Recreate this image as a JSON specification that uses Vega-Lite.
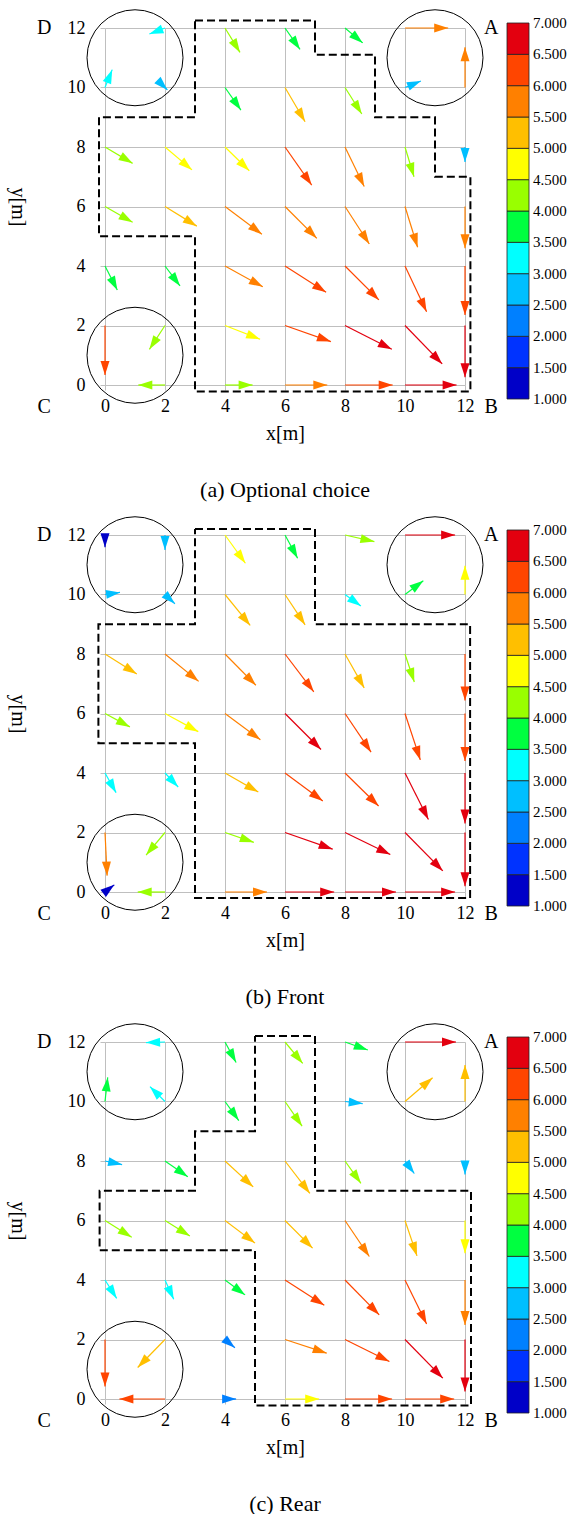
{
  "$schema": "https://vega.github.io/schema/vega-lite/v6.json",
  "background": "white",
  "padding": {"left": 7, "top": 7, "right": 0, "bottom": 0},
  "spacing": 150,
  "bounds": "flush",
  "config": {
    "view": {"stroke": null},
    "axis": {
      "grid": true, "gridColor": "#bfbfbf", "gridWidth": 1,
      "ticks": true, "tickColor": "#bfbfbf", "tickSize": 5, "tickWidth": 1,
      "domain": false,
      "labelFont": "Liberation Serif", "labelFontSize": 18, "labelColor": "black",
      "labelFlush": false, "labelOverlap": false, "labelBound": false,
      "titleFont": "Liberation Serif", "titleFontSize": 20, "titleFontWeight": "normal", "titleColor": "black"
    },
    "title": {"font": "Liberation Serif", "fontSize": 22, "fontWeight": "normal", "color": "black", "offset": 37},
    "text": {"font": "Liberation Serif"}
  },
  "datasets": {
    "circles": [{"cx": 1, "cy": 11}, {"cx": 11, "cy": 11}, {"cx": 1, "cy": 1}],
    "corners": [{"t": "D", "lx": -2.03, "ly": 12}, {"t": "C", "lx": -2.03, "ly": -0.74}, {"t": "A", "lx": 12.87, "ly": 12}, {"t": "B", "lx": 12.87, "ly": -0.74}],
    "bands": [
      {"lo": 1.0, "hi": 1.5, "v": 1.25}, {"lo": 1.5, "hi": 2.0, "v": 1.75}, {"lo": 2.0, "hi": 2.5, "v": 2.25},
      {"lo": 2.5, "hi": 3.0, "v": 2.75}, {"lo": 3.0, "hi": 3.5, "v": 3.25}, {"lo": 3.5, "hi": 4.0, "v": 3.75},
      {"lo": 4.0, "hi": 4.5, "v": 4.25}, {"lo": 4.5, "hi": 5.0, "v": 4.75}, {"lo": 5.0, "hi": 5.5, "v": 5.25},
      {"lo": 5.5, "hi": 6.0, "v": 5.75}, {"lo": 6.0, "hi": 6.5, "v": 6.25}, {"lo": 6.5, "hi": 7.0, "v": 6.75}
    ],
    "bandTicks": [{"t": 1.0}, {"t": 1.5}, {"t": 2.0}, {"t": 2.5}, {"t": 3.0}, {"t": 3.5}, {"t": 4.0}, {"t": 4.5}, {"t": 5.0}, {"t": 5.5}, {"t": 6.0}, {"t": 6.5}, {"t": 7.0}],
    "polyA": [
      {"i": 0, "px": 3, "py": 12.25}, {"i": 1, "px": 7, "py": 12.25}, {"i": 2, "px": 7, "py": 11.1}, {"i": 3, "px": 9, "py": 11.1},
      {"i": 4, "px": 9, "py": 9}, {"i": 5, "px": 11, "py": 9}, {"i": 6, "px": 11, "py": 7}, {"i": 7, "px": 12.18, "py": 7},
      {"i": 8, "px": 12.18, "py": -0.22}, {"i": 9, "px": 3, "py": -0.22}, {"i": 10, "px": 3, "py": 5}, {"i": 11, "px": -0.2, "py": 5},
      {"i": 12, "px": -0.2, "py": 9}, {"i": 13, "px": 3, "py": 9}, {"i": 14, "px": 3, "py": 12.25}
    ],
    "polyB": [
      {"i": 0, "px": 3, "py": 12.2}, {"i": 1, "px": 7, "py": 12.2}, {"i": 2, "px": 7, "py": 9}, {"i": 3, "px": 12.17, "py": 9},
      {"i": 4, "px": 12.17, "py": -0.2}, {"i": 5, "px": 3, "py": -0.2}, {"i": 6, "px": 3, "py": 5}, {"i": 7, "px": -0.22, "py": 5},
      {"i": 8, "px": -0.22, "py": 9}, {"i": 9, "px": 3, "py": 9}, {"i": 10, "px": 3, "py": 12.2}
    ],
    "polyC": [
      {"i": 0, "px": 5, "py": 12.2}, {"i": 1, "px": 7, "py": 12.2}, {"i": 2, "px": 7, "py": 7}, {"i": 3, "px": 12.2, "py": 7},
      {"i": 4, "px": 12.2, "py": -0.22}, {"i": 5, "px": 5, "py": -0.22}, {"i": 6, "px": 5, "py": 5}, {"i": 7, "px": -0.18, "py": 5},
      {"i": 8, "px": -0.18, "py": 7}, {"i": 9, "px": 3, "py": 7}, {"i": 10, "px": 3, "py": 9}, {"i": 11, "px": 5, "py": 9},
      {"i": 12, "px": 5, "py": 12.2}
    ],
    "arrowsA": [
      {"x": 2, "y": 12, "x2": 1.48, "y2": 11.8, "v": 3.25},
      {"x": 4, "y": 12, "x2": 4.5, "y2": 11.18, "v": 4.25},
      {"x": 6, "y": 12, "x2": 6.5, "y2": 11.28, "v": 3.75},
      {"x": 8, "y": 12, "x2": 8.59, "y2": 11.5, "v": 3.75},
      {"x": 10, "y": 12, "x2": 11.44, "y2": 12, "v": 5.75},
      {"x": 0, "y": 10, "x2": 0.24, "y2": 10.6, "v": 3.25},
      {"x": 2, "y": 10, "x2": 2.08, "y2": 9.92, "v": 2.75},
      {"x": 4, "y": 10, "x2": 4.53, "y2": 9.24, "v": 3.75},
      {"x": 6, "y": 10, "x2": 6.67, "y2": 8.85, "v": 5.25},
      {"x": 8, "y": 10, "x2": 8.56, "y2": 9.11, "v": 4.25},
      {"x": 10, "y": 10, "x2": 10.53, "y2": 10.22, "v": 2.75},
      {"x": 12, "y": 10, "x2": 12, "y2": 11.35, "v": 5.75},
      {"x": 0, "y": 8, "x2": 0.92, "y2": 7.45, "v": 4.25},
      {"x": 2, "y": 8, "x2": 2.9, "y2": 7.23, "v": 4.75},
      {"x": 4, "y": 8, "x2": 4.81, "y2": 7.2, "v": 4.75},
      {"x": 6, "y": 8, "x2": 6.89, "y2": 6.72, "v": 6.25},
      {"x": 8, "y": 8, "x2": 8.64, "y2": 6.67, "v": 5.75},
      {"x": 10, "y": 8, "x2": 10.3, "y2": 7.0, "v": 4.25},
      {"x": 12, "y": 8, "x2": 12, "y2": 7.5, "v": 2.75},
      {"x": 0, "y": 6, "x2": 0.92, "y2": 5.47, "v": 4.25},
      {"x": 2, "y": 6, "x2": 3.06, "y2": 5.34, "v": 5.25},
      {"x": 4, "y": 6, "x2": 5.23, "y2": 5.07, "v": 5.75},
      {"x": 6, "y": 6, "x2": 7.06, "y2": 4.93, "v": 5.75},
      {"x": 8, "y": 6, "x2": 8.81, "y2": 4.74, "v": 5.75},
      {"x": 10, "y": 6, "x2": 10.42, "y2": 4.63, "v": 5.75},
      {"x": 12, "y": 6, "x2": 12, "y2": 4.6, "v": 5.75},
      {"x": 0, "y": 4, "x2": 0.41, "y2": 3.19, "v": 3.75},
      {"x": 2, "y": 4, "x2": 2.5, "y2": 3.33, "v": 3.75},
      {"x": 4, "y": 4, "x2": 5.26, "y2": 3.3, "v": 5.75},
      {"x": 6, "y": 4, "x2": 7.37, "y2": 3.12, "v": 6.25},
      {"x": 8, "y": 4, "x2": 9.13, "y2": 2.86, "v": 6.25},
      {"x": 10, "y": 4, "x2": 10.72, "y2": 2.46, "v": 6.25},
      {"x": 12, "y": 4, "x2": 12, "y2": 2.35, "v": 6.25},
      {"x": 0, "y": 2, "x2": 0, "y2": 0.34, "v": 6.25},
      {"x": 2, "y": 2, "x2": 1.48, "y2": 1.2, "v": 4.25},
      {"x": 4, "y": 2, "x2": 5.17, "y2": 1.54, "v": 4.75},
      {"x": 6, "y": 2, "x2": 7.53, "y2": 1.46, "v": 6.25},
      {"x": 8, "y": 2, "x2": 9.56, "y2": 1.2, "v": 6.75},
      {"x": 10, "y": 2, "x2": 11.24, "y2": 0.71, "v": 6.75},
      {"x": 12, "y": 2, "x2": 12, "y2": 0.26, "v": 6.75},
      {"x": 2, "y": 0, "x2": 1.11, "y2": 0, "v": 4.25},
      {"x": 4, "y": 0, "x2": 4.92, "y2": 0, "v": 4.25},
      {"x": 6, "y": 0, "x2": 7.41, "y2": 0, "v": 5.75},
      {"x": 8, "y": 0, "x2": 9.59, "y2": 0, "v": 6.25},
      {"x": 10, "y": 0, "x2": 11.72, "y2": 0, "v": 6.75}
    ],
    "arrowsB": [
      {"x": 0, "y": 12, "x2": 0, "y2": 11.59, "v": 1.25},
      {"x": 2, "y": 12, "x2": 2, "y2": 11.5, "v": 2.75},
      {"x": 4, "y": 12, "x2": 4.68, "y2": 11.05, "v": 4.75},
      {"x": 6, "y": 12, "x2": 6.42, "y2": 11.22, "v": 3.75},
      {"x": 8, "y": 12, "x2": 8.98, "y2": 11.78, "v": 4.25},
      {"x": 10, "y": 12, "x2": 11.67, "y2": 12, "v": 6.75},
      {"x": 0, "y": 10, "x2": 0.5, "y2": 10.07, "v": 2.75},
      {"x": 2, "y": 10, "x2": 2.33, "y2": 9.69, "v": 2.75},
      {"x": 4, "y": 10, "x2": 4.84, "y2": 8.96, "v": 5.25},
      {"x": 6, "y": 10, "x2": 6.67, "y2": 8.98, "v": 5.25},
      {"x": 8, "y": 10, "x2": 8.53, "y2": 9.61, "v": 3.25},
      {"x": 10, "y": 10, "x2": 10.61, "y2": 10.46, "v": 3.75},
      {"x": 12, "y": 10, "x2": 12, "y2": 10.97, "v": 4.75},
      {"x": 0, "y": 8, "x2": 1.06, "y2": 7.33, "v": 5.25},
      {"x": 2, "y": 8, "x2": 3.12, "y2": 7.08, "v": 5.75},
      {"x": 4, "y": 8, "x2": 5.03, "y2": 6.95, "v": 5.75},
      {"x": 6, "y": 8, "x2": 6.96, "y2": 6.73, "v": 6.25},
      {"x": 8, "y": 8, "x2": 8.64, "y2": 6.86, "v": 5.25},
      {"x": 10, "y": 8, "x2": 10.31, "y2": 7.06, "v": 4.25},
      {"x": 12, "y": 8, "x2": 12, "y2": 6.44, "v": 6.25},
      {"x": 0, "y": 6, "x2": 0.83, "y2": 5.55, "v": 4.25},
      {"x": 2, "y": 6, "x2": 3.11, "y2": 5.39, "v": 4.75},
      {"x": 4, "y": 6, "x2": 5.18, "y2": 5.12, "v": 5.75},
      {"x": 6, "y": 6, "x2": 7.2, "y2": 4.79, "v": 6.75},
      {"x": 8, "y": 6, "x2": 8.87, "y2": 4.7, "v": 6.25},
      {"x": 10, "y": 6, "x2": 10.51, "y2": 4.44, "v": 6.25},
      {"x": 12, "y": 6, "x2": 12, "y2": 4.4, "v": 6.25},
      {"x": 0, "y": 4, "x2": 0.37, "y2": 3.34, "v": 3.25},
      {"x": 2, "y": 4, "x2": 2.44, "y2": 3.53, "v": 3.25},
      {"x": 4, "y": 4, "x2": 5.11, "y2": 3.36, "v": 5.25},
      {"x": 6, "y": 4, "x2": 7.26, "y2": 3.06, "v": 6.25},
      {"x": 8, "y": 4, "x2": 9.12, "y2": 2.89, "v": 6.25},
      {"x": 10, "y": 4, "x2": 10.78, "y2": 2.44, "v": 6.75},
      {"x": 12, "y": 4, "x2": 12, "y2": 2.3, "v": 6.75},
      {"x": 0, "y": 2, "x2": 0.07, "y2": 0.55, "v": 5.75},
      {"x": 2, "y": 2, "x2": 1.37, "y2": 1.24, "v": 4.25},
      {"x": 4, "y": 2, "x2": 4.96, "y2": 1.67, "v": 4.25},
      {"x": 6, "y": 2, "x2": 7.59, "y2": 1.44, "v": 6.75},
      {"x": 8, "y": 2, "x2": 9.51, "y2": 1.26, "v": 6.75},
      {"x": 10, "y": 2, "x2": 11.26, "y2": 0.71, "v": 6.75},
      {"x": 12, "y": 2, "x2": 12, "y2": 0.19, "v": 6.75},
      {"x": 0, "y": 0, "x2": 0.31, "y2": 0.24, "v": 1.25},
      {"x": 2, "y": 0, "x2": 1.09, "y2": 0, "v": 4.25},
      {"x": 4, "y": 0, "x2": 5.4, "y2": 0, "v": 5.75},
      {"x": 6, "y": 0, "x2": 7.64, "y2": 0, "v": 6.75},
      {"x": 8, "y": 0, "x2": 9.7, "y2": 0, "v": 6.75},
      {"x": 10, "y": 0, "x2": 11.67, "y2": 0, "v": 6.75}
    ],
    "arrowsC": [
      {"x": 2, "y": 12, "x2": 1.37, "y2": 11.98, "v": 3.25},
      {"x": 4, "y": 12, "x2": 4.37, "y2": 11.31, "v": 3.75},
      {"x": 6, "y": 12, "x2": 6.59, "y2": 11.28, "v": 4.25},
      {"x": 8, "y": 12, "x2": 8.76, "y2": 11.73, "v": 3.75},
      {"x": 10, "y": 12, "x2": 11.7, "y2": 12, "v": 6.75},
      {"x": 0, "y": 10, "x2": 0.09, "y2": 10.81, "v": 3.75},
      {"x": 2, "y": 10, "x2": 1.5, "y2": 10.5, "v": 3.25},
      {"x": 4, "y": 10, "x2": 4.46, "y2": 9.36, "v": 3.75},
      {"x": 6, "y": 10, "x2": 6.57, "y2": 9.17, "v": 4.25},
      {"x": 8, "y": 10, "x2": 8.59, "y2": 9.93, "v": 2.75},
      {"x": 10, "y": 10, "x2": 10.92, "y2": 10.8, "v": 5.25},
      {"x": 12, "y": 10, "x2": 12, "y2": 11.23, "v": 5.25},
      {"x": 0, "y": 8, "x2": 0.57, "y2": 7.88, "v": 2.75},
      {"x": 2, "y": 8, "x2": 2.76, "y2": 7.47, "v": 3.75},
      {"x": 4, "y": 8, "x2": 4.94, "y2": 7.13, "v": 5.25},
      {"x": 6, "y": 8, "x2": 6.83, "y2": 6.91, "v": 5.25},
      {"x": 8, "y": 8, "x2": 8.53, "y2": 7.25, "v": 4.25},
      {"x": 10, "y": 8, "x2": 10.31, "y2": 7.58, "v": 2.75},
      {"x": 12, "y": 8, "x2": 12, "y2": 7.55, "v": 2.75},
      {"x": 0, "y": 6, "x2": 0.89, "y2": 5.44, "v": 4.25},
      {"x": 2, "y": 6, "x2": 2.83, "y2": 5.48, "v": 4.25},
      {"x": 4, "y": 6, "x2": 5.0, "y2": 5.24, "v": 5.25},
      {"x": 6, "y": 6, "x2": 6.92, "y2": 5.07, "v": 5.25},
      {"x": 8, "y": 6, "x2": 8.81, "y2": 4.79, "v": 5.75},
      {"x": 10, "y": 6, "x2": 10.4, "y2": 4.81, "v": 5.25},
      {"x": 12, "y": 6, "x2": 12, "y2": 4.9, "v": 4.75},
      {"x": 0, "y": 4, "x2": 0.39, "y2": 3.38, "v": 3.25},
      {"x": 2, "y": 4, "x2": 2.29, "y2": 3.35, "v": 3.25},
      {"x": 4, "y": 4, "x2": 4.67, "y2": 3.5, "v": 3.75},
      {"x": 6, "y": 4, "x2": 7.31, "y2": 3.15, "v": 6.25},
      {"x": 8, "y": 4, "x2": 9.14, "y2": 2.83, "v": 6.25},
      {"x": 10, "y": 4, "x2": 10.72, "y2": 2.52, "v": 6.25},
      {"x": 12, "y": 4, "x2": 12, "y2": 2.49, "v": 5.75},
      {"x": 0, "y": 2, "x2": 0, "y2": 0.42, "v": 6.25},
      {"x": 2, "y": 2, "x2": 1.09, "y2": 1.06, "v": 5.25},
      {"x": 4, "y": 2, "x2": 4.33, "y2": 1.72, "v": 2.25},
      {"x": 6, "y": 2, "x2": 7.39, "y2": 1.54, "v": 5.75},
      {"x": 8, "y": 2, "x2": 9.48, "y2": 1.26, "v": 6.25},
      {"x": 10, "y": 2, "x2": 11.26, "y2": 0.7, "v": 6.75},
      {"x": 12, "y": 2, "x2": 12, "y2": 0.25, "v": 6.75},
      {"x": 2, "y": 0, "x2": 0.48, "y2": 0, "v": 6.25},
      {"x": 4, "y": 0, "x2": 4.37, "y2": 0, "v": 2.25},
      {"x": 6, "y": 0, "x2": 7.14, "y2": 0, "v": 4.75},
      {"x": 8, "y": 0, "x2": 9.57, "y2": 0, "v": 6.25},
      {"x": 10, "y": 0, "x2": 11.64, "y2": 0, "v": 6.25}
    ]
  },
  "vconcat": [
    {
      "width": 360, "height": 357,
      "title": {"text": "(a) Optional choice", "orient": "bottom", "anchor": "middle"},
      "resolve": {"scale": {"x": "independent", "y": "independent"}, "axis": {"x": "independent", "y": "independent"}},
      "layer": [
        {
          "layer": [
            {
              "data": {"name": "polyA"},
              "mark": {"type": "line", "stroke": "black", "strokeWidth": 2, "strokeDash": [8, 4]},
              "encoding": {
                "x": {"field": "px", "type": "quantitative", "scale": {"domain": [0, 12], "nice": false, "zero": false},
                      "axis": {"values": [0, 2, 4, 6, 8, 10, 12], "title": "x[m]", "labelPadding": 7, "titlePadding": 8}},
                "y": {"field": "py", "type": "quantitative", "scale": {"domain": [0, 12], "nice": false, "zero": false},
                      "axis": {"values": [0, 2, 4, 6, 8, 10, 12], "title": "y[m]", "labelPadding": 15, "titleAngle": 90, "titlePadding": 60}},
                "order": {"field": "i", "type": "quantitative"}
              }
            },
            {
              "data": {"name": "circles"},
              "mark": {"type": "point", "shape": "circle", "size": 9216, "filled": false, "stroke": "black", "strokeWidth": 1, "opacity": 1},
              "encoding": {"x": {"field": "cx", "type": "quantitative"}, "y": {"field": "cy", "type": "quantitative"}}
            },
            {
              "data": {"name": "arrowsA"},
              "mark": {"type": "rule", "strokeWidth": 1.2},
              "encoding": {
                "x": {"field": "x", "type": "quantitative"}, "y": {"field": "y", "type": "quantitative"},
                "x2": {"field": "x2"}, "y2": {"field": "y2"},
                "color": {"field": "v", "type": "quantitative", "legend": null,
                          "scale": {"type": "quantize", "domain": [1, 7], "range": ["#0000c8", "#0033ff", "#0080ff", "#00bfff", "#00ffff", "#00ff40", "#99ff00", "#ffff00", "#ffbf00", "#ff8000", "#ff4500", "#e3000f"]}}
              }
            },
            {
              "data": {"name": "arrowsA"},
              "transform": [{"calculate": "atan2((datum.x2 - datum.x) * 30, (datum.y2 - datum.y) * 29.75) * 180 / PI", "as": "ang"}],
              "mark": {"type": "point", "shape": "M0,0L0.64,2L-0.64,2Z", "size": 196, "filled": true, "opacity": 1, "strokeWidth": 0},
              "encoding": {
                "x": {"field": "x2", "type": "quantitative"}, "y": {"field": "y2", "type": "quantitative"},
                "angle": {"field": "ang", "type": "quantitative", "scale": null},
                "color": {"field": "v", "type": "quantitative", "legend": null,
                          "scale": {"type": "quantize", "domain": [1, 7], "range": ["#0000c8", "#0033ff", "#0080ff", "#00bfff", "#00ffff", "#00ff40", "#99ff00", "#ffff00", "#ffbf00", "#ff8000", "#ff4500", "#e3000f"]}}
              }
            },
            {
              "data": {"name": "corners"},
              "mark": {"type": "text", "fontSize": 20, "align": "center", "baseline": "middle", "color": "black"},
              "encoding": {"x": {"field": "lx", "type": "quantitative"}, "y": {"field": "ly", "type": "quantitative"}, "text": {"field": "t"}}
            }
          ]
        },
        {
          "layer": [
            {
              "data": {"name": "bands"},
              "mark": {"type": "rect", "stroke": "#222222", "strokeWidth": 0.8},
              "encoding": {
                "x": {"datum": 0, "type": "quantitative", "scale": {"domain": [0, 1], "range": [402, 424]}, "axis": null},
                "x2": {"datum": 1},
                "y": {"field": "lo", "type": "quantitative", "scale": {"domain": [1, 7], "range": [371, -5]}, "axis": null},
                "y2": {"field": "hi"},
                "color": {"field": "v", "type": "quantitative", "legend": null,
                          "scale": {"type": "quantize", "domain": [1, 7], "range": ["#0000c8", "#0033ff", "#0080ff", "#00bfff", "#00ffff", "#00ff40", "#99ff00", "#ffff00", "#ffbf00", "#ff8000", "#ff4500", "#e3000f"]}}
              }
            },
            {
              "data": {"name": "bandTicks"},
              "mark": {"type": "text", "fontSize": 15, "align": "left", "baseline": "middle", "dx": 4, "color": "black"},
              "encoding": {
                "x": {"datum": 1, "type": "quantitative"},
                "y": {"field": "t", "type": "quantitative"},
                "text": {"field": "t", "type": "quantitative", "format": ".3f"}
              }
            }
          ]
        }
      ]
    },
    {
      "width": 360, "height": 357,
      "title": {"text": "(b) Front", "orient": "bottom", "anchor": "middle"},
      "resolve": {"scale": {"x": "independent", "y": "independent"}, "axis": {"x": "independent", "y": "independent"}},
      "layer": [
        {
          "layer": [
            {
              "data": {"name": "polyB"},
              "mark": {"type": "line", "stroke": "black", "strokeWidth": 2, "strokeDash": [8, 4]},
              "encoding": {
                "x": {"field": "px", "type": "quantitative", "scale": {"domain": [0, 12], "nice": false, "zero": false},
                      "axis": {"values": [0, 2, 4, 6, 8, 10, 12], "title": "x[m]", "labelPadding": 7, "titlePadding": 8}},
                "y": {"field": "py", "type": "quantitative", "scale": {"domain": [0, 12], "nice": false, "zero": false},
                      "axis": {"values": [0, 2, 4, 6, 8, 10, 12], "title": "y[m]", "labelPadding": 15, "titleAngle": 90, "titlePadding": 60}},
                "order": {"field": "i", "type": "quantitative"}
              }
            },
            {
              "data": {"name": "circles"},
              "mark": {"type": "point", "shape": "circle", "size": 9216, "filled": false, "stroke": "black", "strokeWidth": 1, "opacity": 1},
              "encoding": {"x": {"field": "cx", "type": "quantitative"}, "y": {"field": "cy", "type": "quantitative"}}
            },
            {
              "data": {"name": "arrowsB"},
              "mark": {"type": "rule", "strokeWidth": 1.2},
              "encoding": {
                "x": {"field": "x", "type": "quantitative"}, "y": {"field": "y", "type": "quantitative"},
                "x2": {"field": "x2"}, "y2": {"field": "y2"},
                "color": {"field": "v", "type": "quantitative", "legend": null,
                          "scale": {"type": "quantize", "domain": [1, 7], "range": ["#0000c8", "#0033ff", "#0080ff", "#00bfff", "#00ffff", "#00ff40", "#99ff00", "#ffff00", "#ffbf00", "#ff8000", "#ff4500", "#e3000f"]}}
              }
            },
            {
              "data": {"name": "arrowsB"},
              "transform": [{"calculate": "atan2((datum.x2 - datum.x) * 30, (datum.y2 - datum.y) * 29.75) * 180 / PI", "as": "ang"}],
              "mark": {"type": "point", "shape": "M0,0L0.64,2L-0.64,2Z", "size": 196, "filled": true, "opacity": 1, "strokeWidth": 0},
              "encoding": {
                "x": {"field": "x2", "type": "quantitative"}, "y": {"field": "y2", "type": "quantitative"},
                "angle": {"field": "ang", "type": "quantitative", "scale": null},
                "color": {"field": "v", "type": "quantitative", "legend": null,
                          "scale": {"type": "quantize", "domain": [1, 7], "range": ["#0000c8", "#0033ff", "#0080ff", "#00bfff", "#00ffff", "#00ff40", "#99ff00", "#ffff00", "#ffbf00", "#ff8000", "#ff4500", "#e3000f"]}}
              }
            },
            {
              "data": {"name": "corners"},
              "mark": {"type": "text", "fontSize": 20, "align": "center", "baseline": "middle", "color": "black"},
              "encoding": {"x": {"field": "lx", "type": "quantitative"}, "y": {"field": "ly", "type": "quantitative"}, "text": {"field": "t"}}
            }
          ]
        },
        {
          "layer": [
            {
              "data": {"name": "bands"},
              "mark": {"type": "rect", "stroke": "#222222", "strokeWidth": 0.8},
              "encoding": {
                "x": {"datum": 0, "type": "quantitative", "scale": {"domain": [0, 1], "range": [402, 424]}, "axis": null},
                "x2": {"datum": 1},
                "y": {"field": "lo", "type": "quantitative", "scale": {"domain": [1, 7], "range": [371, -5]}, "axis": null},
                "y2": {"field": "hi"},
                "color": {"field": "v", "type": "quantitative", "legend": null,
                          "scale": {"type": "quantize", "domain": [1, 7], "range": ["#0000c8", "#0033ff", "#0080ff", "#00bfff", "#00ffff", "#00ff40", "#99ff00", "#ffff00", "#ffbf00", "#ff8000", "#ff4500", "#e3000f"]}}
              }
            },
            {
              "data": {"name": "bandTicks"},
              "mark": {"type": "text", "fontSize": 15, "align": "left", "baseline": "middle", "dx": 4, "color": "black"},
              "encoding": {
                "x": {"datum": 1, "type": "quantitative"},
                "y": {"field": "t", "type": "quantitative"},
                "text": {"field": "t", "type": "quantitative", "format": ".3f"}
              }
            }
          ]
        }
      ]
    },
    {
      "width": 360, "height": 357,
      "title": {"text": "(c) Rear", "orient": "bottom", "anchor": "middle"},
      "resolve": {"scale": {"x": "independent", "y": "independent"}, "axis": {"x": "independent", "y": "independent"}},
      "layer": [
        {
          "layer": [
            {
              "data": {"name": "polyC"},
              "mark": {"type": "line", "stroke": "black", "strokeWidth": 2, "strokeDash": [8, 4]},
              "encoding": {
                "x": {"field": "px", "type": "quantitative", "scale": {"domain": [0, 12], "nice": false, "zero": false},
                      "axis": {"values": [0, 2, 4, 6, 8, 10, 12], "title": "x[m]", "labelPadding": 7, "titlePadding": 8}},
                "y": {"field": "py", "type": "quantitative", "scale": {"domain": [0, 12], "nice": false, "zero": false},
                      "axis": {"values": [0, 2, 4, 6, 8, 10, 12], "title": "y[m]", "labelPadding": 15, "titleAngle": 90, "titlePadding": 60}},
                "order": {"field": "i", "type": "quantitative"}
              }
            },
            {
              "data": {"name": "circles"},
              "mark": {"type": "point", "shape": "circle", "size": 9216, "filled": false, "stroke": "black", "strokeWidth": 1, "opacity": 1},
              "encoding": {"x": {"field": "cx", "type": "quantitative"}, "y": {"field": "cy", "type": "quantitative"}}
            },
            {
              "data": {"name": "arrowsC"},
              "mark": {"type": "rule", "strokeWidth": 1.2},
              "encoding": {
                "x": {"field": "x", "type": "quantitative"}, "y": {"field": "y", "type": "quantitative"},
                "x2": {"field": "x2"}, "y2": {"field": "y2"},
                "color": {"field": "v", "type": "quantitative", "legend": null,
                          "scale": {"type": "quantize", "domain": [1, 7], "range": ["#0000c8", "#0033ff", "#0080ff", "#00bfff", "#00ffff", "#00ff40", "#99ff00", "#ffff00", "#ffbf00", "#ff8000", "#ff4500", "#e3000f"]}}
              }
            },
            {
              "data": {"name": "arrowsC"},
              "transform": [{"calculate": "atan2((datum.x2 - datum.x) * 30, (datum.y2 - datum.y) * 29.75) * 180 / PI", "as": "ang"}],
              "mark": {"type": "point", "shape": "M0,0L0.64,2L-0.64,2Z", "size": 196, "filled": true, "opacity": 1, "strokeWidth": 0},
              "encoding": {
                "x": {"field": "x2", "type": "quantitative"}, "y": {"field": "y2", "type": "quantitative"},
                "angle": {"field": "ang", "type": "quantitative", "scale": null},
                "color": {"field": "v", "type": "quantitative", "legend": null,
                          "scale": {"type": "quantize", "domain": [1, 7], "range": ["#0000c8", "#0033ff", "#0080ff", "#00bfff", "#00ffff", "#00ff40", "#99ff00", "#ffff00", "#ffbf00", "#ff8000", "#ff4500", "#e3000f"]}}
              }
            },
            {
              "data": {"name": "corners"},
              "mark": {"type": "text", "fontSize": 20, "align": "center", "baseline": "middle", "color": "black"},
              "encoding": {"x": {"field": "lx", "type": "quantitative"}, "y": {"field": "ly", "type": "quantitative"}, "text": {"field": "t"}}
            }
          ]
        },
        {
          "layer": [
            {
              "data": {"name": "bands"},
              "mark": {"type": "rect", "stroke": "#222222", "strokeWidth": 0.8},
              "encoding": {
                "x": {"datum": 0, "type": "quantitative", "scale": {"domain": [0, 1], "range": [402, 424]}, "axis": null},
                "x2": {"datum": 1},
                "y": {"field": "lo", "type": "quantitative", "scale": {"domain": [1, 7], "range": [371, -5]}, "axis": null},
                "y2": {"field": "hi"},
                "color": {"field": "v", "type": "quantitative", "legend": null,
                          "scale": {"type": "quantize", "domain": [1, 7], "range": ["#0000c8", "#0033ff", "#0080ff", "#00bfff", "#00ffff", "#00ff40", "#99ff00", "#ffff00", "#ffbf00", "#ff8000", "#ff4500", "#e3000f"]}}
              }
            },
            {
              "data": {"name": "bandTicks"},
              "mark": {"type": "text", "fontSize": 15, "align": "left", "baseline": "middle", "dx": 4, "color": "black"},
              "encoding": {
                "x": {"datum": 1, "type": "quantitative"},
                "y": {"field": "t", "type": "quantitative"},
                "text": {"field": "t", "type": "quantitative", "format": ".3f"}
              }
            }
          ]
        }
      ]
    }
  ]
}
